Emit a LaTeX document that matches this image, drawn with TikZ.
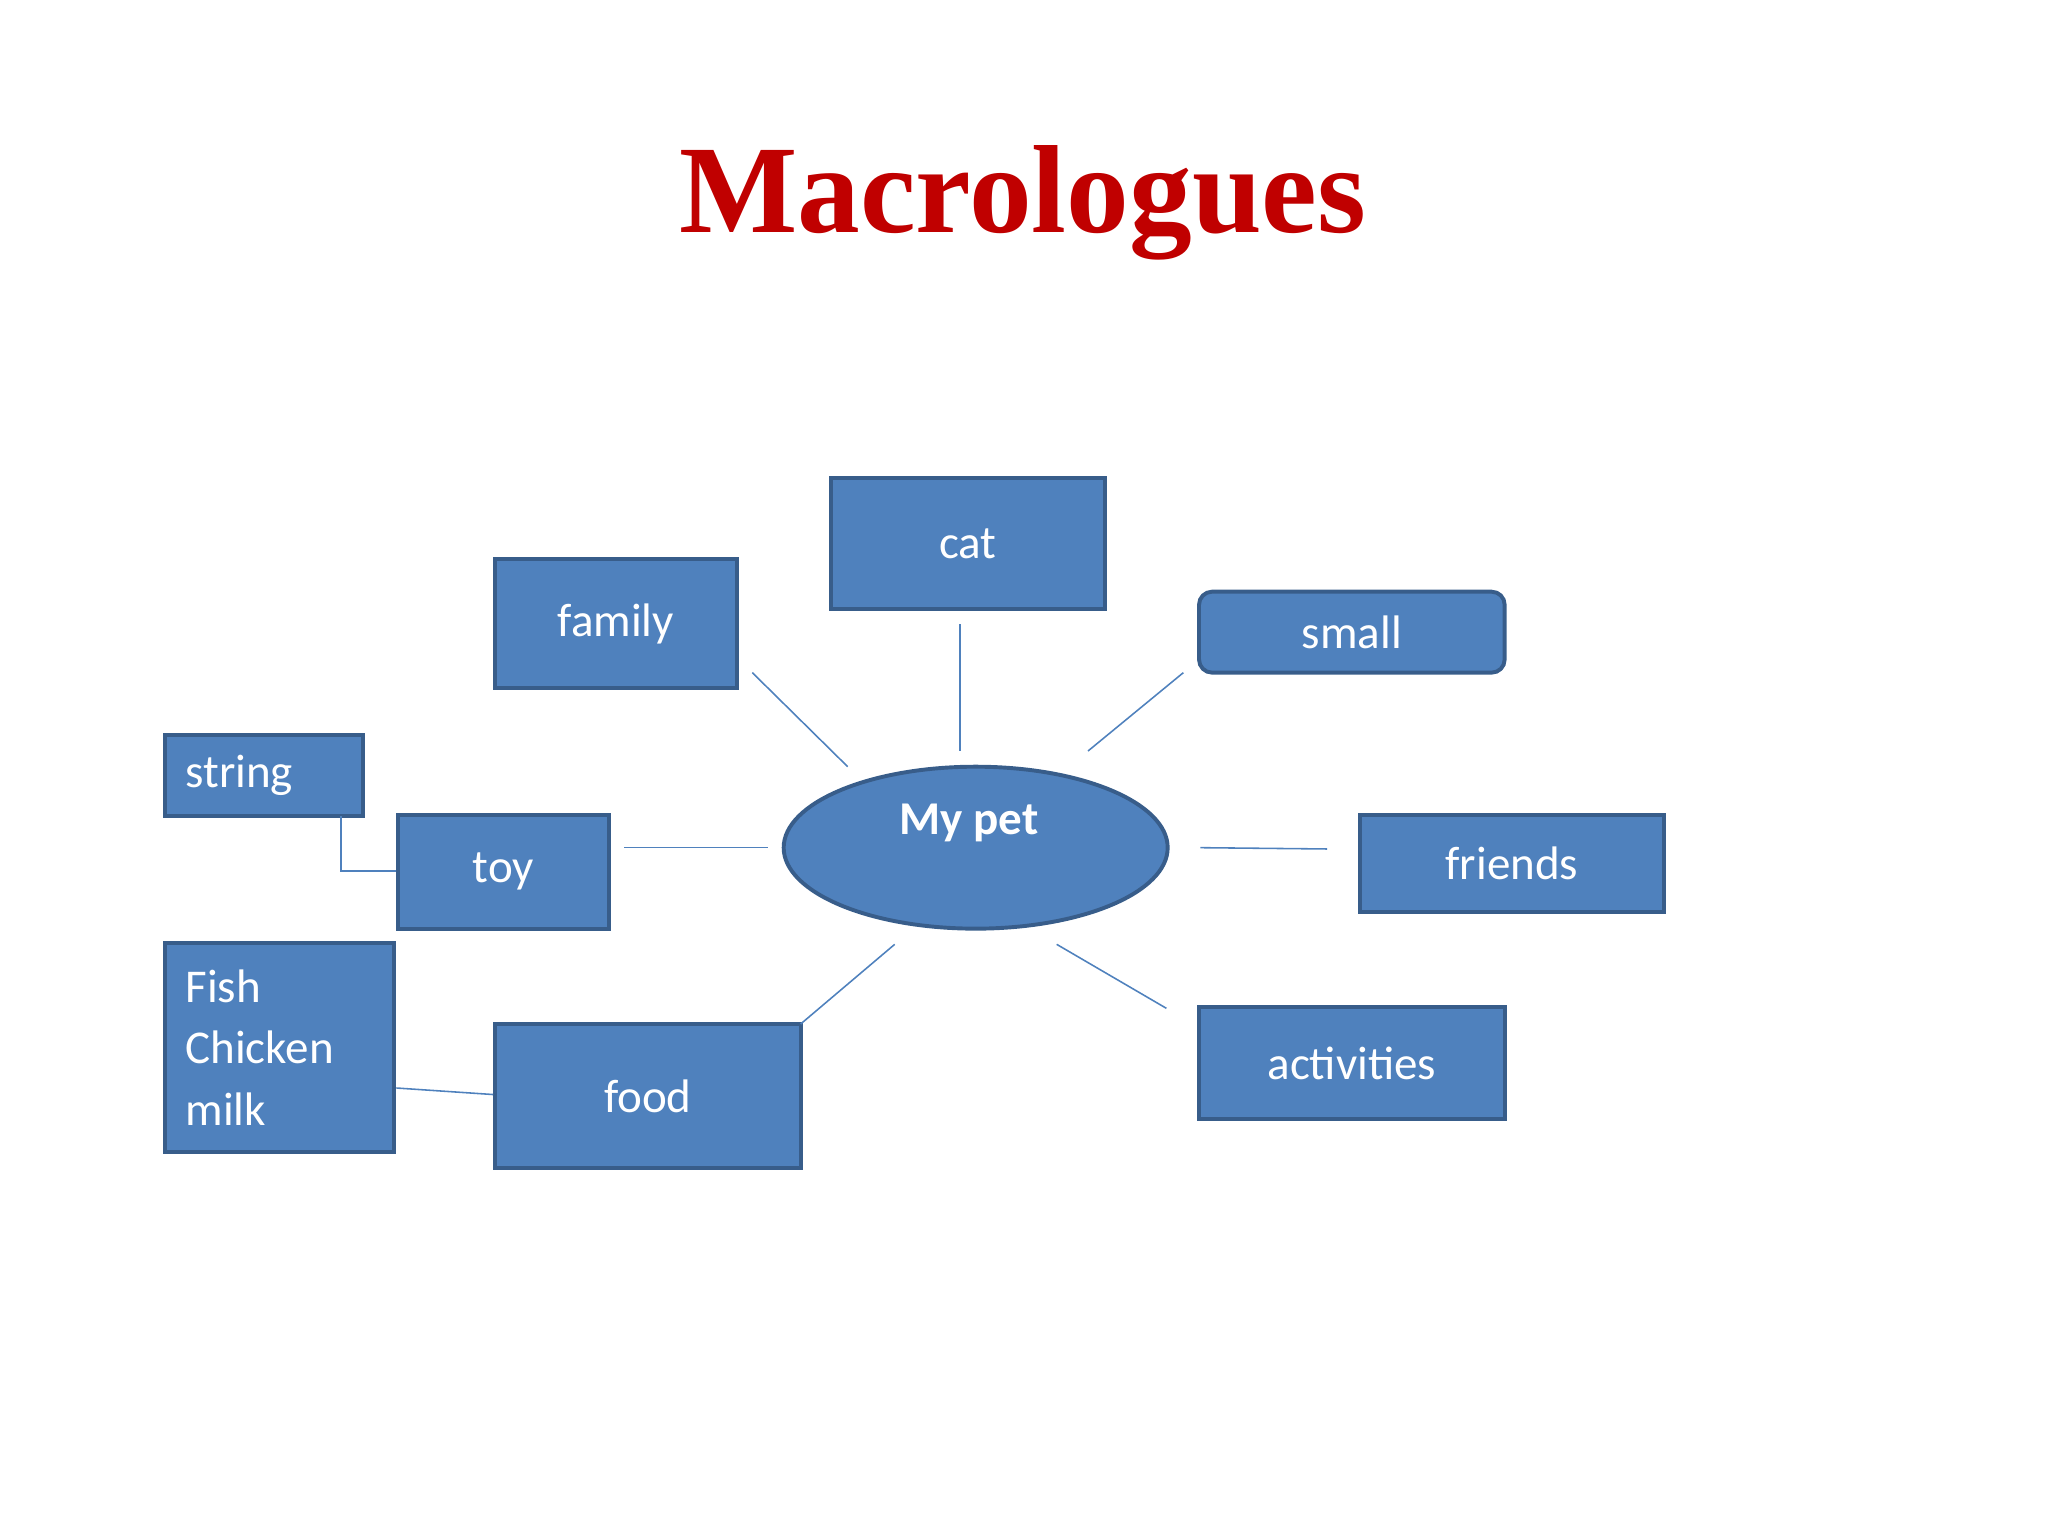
\documentclass[tikz,border=0pt]{standalone}
\usepackage{fontspec}
\usetikzlibrary{shapes.geometric}
\setmainfont{Carlito}
\newfontfamily\titlefont{Liberation Serif}
\definecolor{boxfill}{HTML}{4F81BD}
\definecolor{boxedge}{HTML}{385D8A}
\definecolor{titlered}{HTML}{C00000}
\begin{document}
\begin{tikzpicture}[x=0.5pt,y=-0.5pt,
  bx/.style={draw=boxedge,fill=boxfill,line width=1.5pt,text=white,font=\fontsize{18}{22}\selectfont,inner sep=0pt},
  ln/.style={draw=boxfill,line width=0.6pt}]
\useasboundingbox (0,0) rectangle (1568,1176);
\node[font=\titlefont\bfseries\fontsize{48}{56}\selectfont,text=titlered] (title) at (783,155) {Macrologues};
\node[bx,minimum width=105pt,minimum height=50pt] (cat) at (741,416) {cat};
\node[bx,minimum width=92.5pt,minimum height=49.5pt] (family) at (471.5,477.5) {family};
\node[bx,rounded corners=5pt,minimum width=117pt,minimum height=31pt] (small) at (1035,484) {small};
\node[bx,minimum width=68pt,minimum height=31pt,align=left,text width=60pt,inner xsep=8pt] (string) at (202,594) {string};
\node[bx,minimum width=80.5pt,minimum height=43.5pt] (toy) at (385.5,667.5) {toy};
\node[bx,ellipse,minimum width=147pt,minimum height=62pt] (pet) at (747,649) {};
\node[text=white,font=\bfseries\fontsize{18}{22}\selectfont] (pettext) at (742,630) {My pet};
\node[bx,minimum width=116.5pt,minimum height=37pt] (friends) at (1157.5,661) {friends};
\node[bx,minimum width=80pt,minimum height=80pt,text width=72pt,inner xsep=8pt,align=left,font=\fontsize{18}{23.5}\selectfont] (fish) at (214,802) {Fish\\Chicken\\milk};
\node[bx,minimum width=117pt,minimum height=55pt] (food) at (496,839) {food};
\node[bx,minimum width=117pt,minimum height=43pt] (act) at (1035,814) {activities};
\coordinate (f1) at (576,515); \coordinate (f2) at (649,587);
\coordinate (c1) at (735,478); \coordinate (c2) at (735,575);
\coordinate (s1) at (906,515); \coordinate (s2) at (833,575);
\coordinate (t1) at (478,649); \coordinate (t2) at (588,649);
\coordinate (r1) at (919,649); \coordinate (r2) at (1016,650);
\coordinate (o1) at (685,723); \coordinate (o2) at (613,784);
\coordinate (a1) at (809,723); \coordinate (a2) at (893,772);
\coordinate (st1) at (261,625); \coordinate (st2) at (261,667);
\draw[ln] (f1) -- (f2);
\draw[ln] (c1) -- (c2);
\draw[ln] (s1) -- (s2);
\draw[ln] (t1) -- (t2);
\draw[ln] (r1) -- (r2);
\draw[ln] (o1) -- (o2);
\draw[ln] (a1) -- (a2);
\draw[ln] (st1) -- (st2) -- (toy.west |- st2);
\draw[ln] (fish.east |- 0,833) -- (food.west |- 0,838);
\end{tikzpicture}
\end{document}
